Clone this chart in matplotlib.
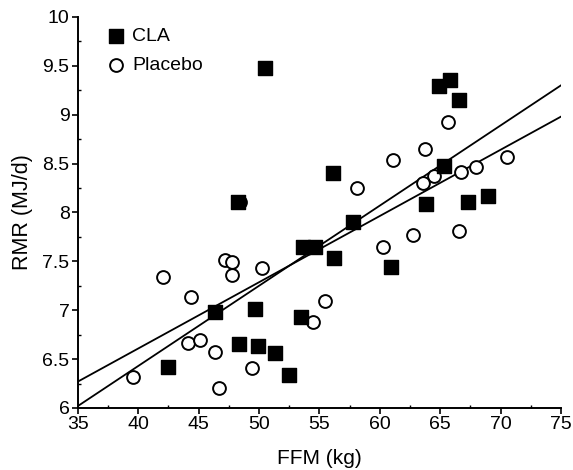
import matplotlib
matplotlib.use("Agg")
import matplotlib.pyplot as plt
from matplotlib.ticker import MultipleLocator

plt.rcParams['font.family'] = ['Liberation Sans', 'DejaVu Sans']

cla_ffm = [50.5, 48.25, 64.9, 65.8, 66.55, 65.3, 56.1, 63.8, 67.3, 68.95, 57.77,
           53.6, 54.6, 56.2, 60.9, 53.5, 52.5, 46.35, 49.7, 48.33, 49.9, 51.3, 42.45]
cla_rmr = [9.48, 8.11, 9.29, 9.35, 9.15, 8.48, 8.40, 8.09, 8.11, 8.17, 7.90,
           7.65, 7.65, 7.53, 7.44, 6.93, 6.34, 6.98, 7.01, 6.65, 6.63, 6.56, 6.42]

pla_ffm = [48.45, 65.64, 63.74, 61.09, 70.5, 67.96, 66.7, 64.48, 63.57, 58.1, 62.74,
           66.55, 60.3, 55.5, 54.5, 42.04, 47.2, 47.75, 47.75, 50.24, 44.4, 44.1,
           45.1, 46.35, 39.6, 49.4, 46.7]
pla_rmr = [8.11, 8.93, 8.65, 8.54, 8.57, 8.46, 8.41, 8.37, 8.30, 8.25, 7.77,
           7.81, 7.65, 7.09, 6.88, 7.34, 7.51, 7.49, 7.36, 7.43, 7.14, 6.66,
           6.70, 6.57, 6.32, 6.41, 6.20]

fit_x = [35, 75]
fit_cla = [6.02, 9.30]
fit_pla = [6.27, 8.98]

fig = plt.figure(figsize=(5.73, 4.70), dpi=100)
ax = fig.add_axes([0.136, 0.132, 0.843, 0.832])

ax.plot(fit_x, fit_cla, color='black', lw=1.3, zorder=2)
ax.plot(fit_x, fit_pla, color='black', lw=1.3, zorder=2)

ax.scatter(pla_ffm, pla_rmr, marker='o', s=85, facecolors='white',
           edgecolors='black', linewidths=1.4, zorder=3, label='Placebo')
ax.scatter(cla_ffm, cla_rmr, marker='s', s=105, color='black', zorder=4, label='CLA')

ax.set_xlim(35, 75)
ax.set_ylim(6, 10)
ax.xaxis.set_major_locator(MultipleLocator(5))
ax.yaxis.set_major_locator(MultipleLocator(0.5))
ax.xaxis.set_minor_locator(MultipleLocator(2.5))
ax.yaxis.set_minor_locator(MultipleLocator(0.25))
ax.yaxis.set_major_formatter(plt.FuncFormatter(lambda v, p: f"{v:g}"))

for s in ['top', 'right']:
    ax.spines[s].set_visible(False)
for s in ['left', 'bottom']:
    ax.spines[s].set_linewidth(1.4)

ax.tick_params(axis='both', which='major', direction='out', length=4, width=1.2,
               labelsize=14, pad=2)
ax.tick_params(axis='both', which='minor', direction='in', length=2.5, width=1.0)

ax.set_xlabel('FFM (kg)', fontsize=15, labelpad=11)
ax.set_ylabel('RMR (MJ/d)', fontsize=15.5, labelpad=7)

h, l = ax.get_legend_handles_labels()
ax.legend([h[1], h[0]], [l[1], l[0]], loc='upper left', bbox_to_anchor=(0.055, 0.972),
          frameon=False, fontsize=14, handletextpad=0.23, handlelength=1.2,
          labelspacing=0.55, borderpad=0, borderaxespad=0, scatterpoints=1)

fig.savefig('out.png', dpi=100)
